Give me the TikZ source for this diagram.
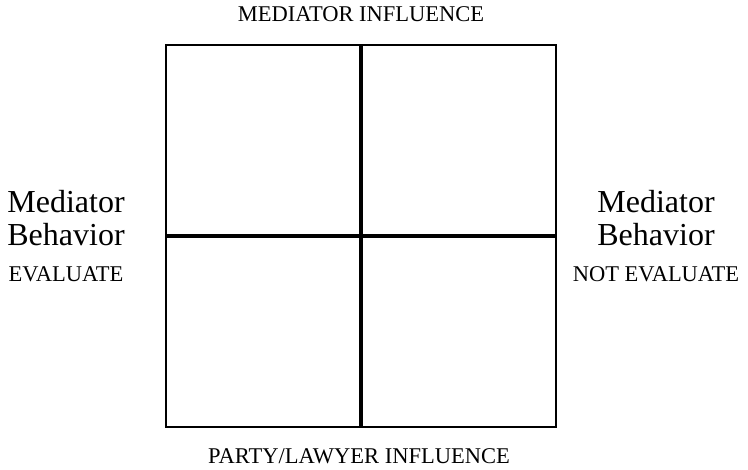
\documentclass[tikz,border=0pt]{standalone}
\usepackage{fontspec}
\setmainfont{Liberation Serif}
\begin{document}
\begin{tikzpicture}[x=1pt,y=-1pt,
  lbl/.style={inner sep=0pt, anchor=base},
  big/.style={lbl,font=\fontsize{32}{36}\selectfont},
  caps/.style={lbl,font=\fontsize{22.5}{26}\selectfont},
  frame/.style={line width=2pt},
  axis/.style={line width=4pt}]
\useasboundingbox (0,0) rectangle (748,470);
\coordinate (tl) at (166,45);
\coordinate (br) at (556,427);
\draw[frame] (tl) rectangle (br);
\coordinate (vt) at (361,45);
\coordinate (vb) at (361,427);
\coordinate (hl) at (166,236);
\coordinate (hr) at (556,236);
\draw[axis] (vt) -- (vb);
\draw[axis] (hl) -- (hr);
\node[caps] (top) at (361,22) {MEDIATOR INFLUENCE};
\node[caps] (bot) at (359,464) {PARTY/LAWYER INFLUENCE};
\node[big] (l1) at (66,213) {Mediator};
\node[big] (l2) at (66,246) {Behavior};
\node[caps] (l3) at (66,282) {EVALUATE};
\node[big] (r1) at (656,213) {Mediator};
\node[big] (r2) at (656,246) {Behavior};
\node[caps] (r3) at (656,282) {NOT EVALUATE};
\end{tikzpicture}
\end{document}
